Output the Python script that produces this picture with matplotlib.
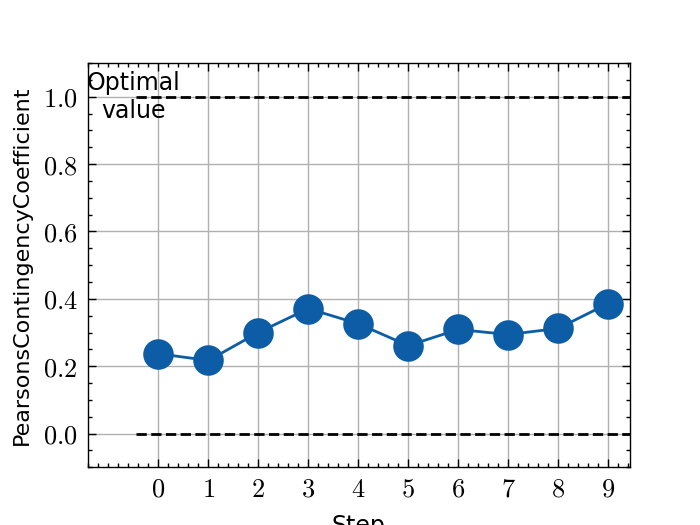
import numpy as np
import matplotlib
matplotlib.use("Agg")
import matplotlib.pyplot as plt
from matplotlib.ticker import MultipleLocator, FuncFormatter

steps = [0, 1, 2, 3, 4, 5, 6, 7, 8, 9]
coef = [0.237, 0.217, 0.300, 0.371, 0.326, 0.261, 0.309, 0.294, 0.312, 0.386]
optimal = 1.0
baseline = 0.0

plt.rcParams.update({
    "font.family": "DejaVu Sans",
    "font.size": 8,
    "mathtext.fontset": "cm",
    "axes.linewidth": 0.5,
    "xtick.direction": "in",
    "ytick.direction": "in",
    "xtick.top": True,
    "ytick.right": True,
    "xtick.major.size": 3,
    "ytick.major.size": 3,
    "xtick.minor.size": 1.5,
    "ytick.minor.size": 1.5,
    "xtick.major.width": 0.5,
    "ytick.major.width": 0.5,
    "xtick.minor.width": 0.5,
    "ytick.minor.width": 0.5,
    "xtick.minor.visible": True,
    "ytick.minor.visible": True,
})

fig, ax = plt.subplots(figsize=(3.5, 2.625), dpi=200)

ax.grid(True, color="#b0b0b0", linewidth=0.5, zorder=0)
ax.plot(steps, coef, "-o", color="#0C5DA5", linewidth=1.0, markersize=10, zorder=3)
ax.hlines([optimal, baseline], -0.45, 9.6, colors="black", linestyles="--", linewidth=1.0, zorder=2)
ax.text(-0.5, 1.0, "Optimal\nvalue", ha="center", va="center", fontsize=8.5)

ax.set_xlim(-1.42, 9.44)
ax.set_ylim(-0.1, 1.1)
ax.set_xticks(steps)
ax.xaxis.set_minor_locator(MultipleLocator(0.2))
ax.yaxis.set_major_locator(MultipleLocator(0.2))
ax.yaxis.set_minor_locator(MultipleLocator(0.05))
ax.xaxis.set_major_formatter(FuncFormatter(lambda v, p: "$%d$" % round(v)))
ax.yaxis.set_major_formatter(FuncFormatter(lambda v, p: "$%.1f$" % v))
ax.tick_params(labelsize=9.5)
ax.set_xlabel("Step", fontsize=8.5)
ax.set_ylabel("PearsonsContingencyCoefficient", fontsize=8)

fig.savefig("out.png", dpi=200)
